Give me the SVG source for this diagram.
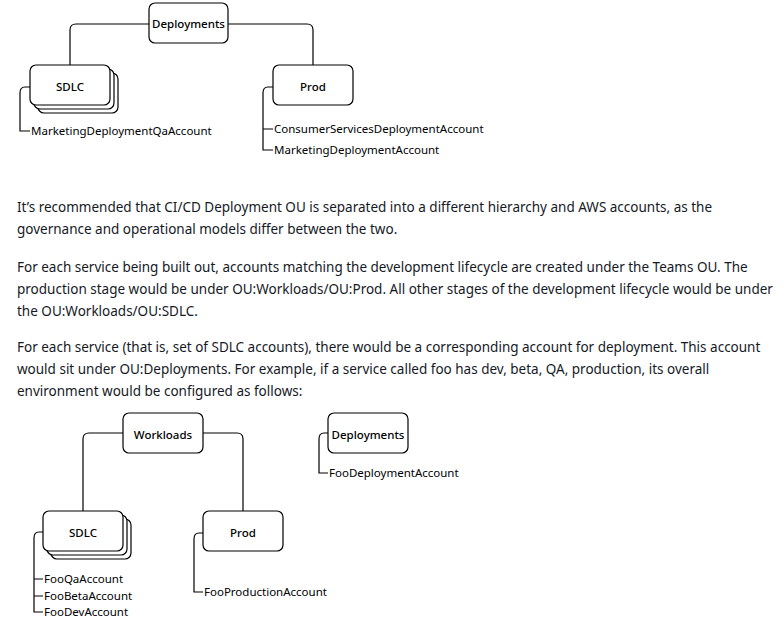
<svg xmlns="http://www.w3.org/2000/svg" width="784" height="627" viewBox="0 0 784 627">
<style>
.b{fill:#fff;stroke:#000;stroke-width:1.2}
.l{fill:none;stroke:#000;stroke-width:1.2}
.n{font-family:"Noto Sans",sans-serif;font-size:11.5px;fill:#000}
.c{text-anchor:middle;font-weight:500}
.p{font-family:"Noto Sans",sans-serif;font-size:13.5px;fill:#16191f}
</style>
<rect width="784" height="627" fill="#fff"/>
<g id="connectors">
<path class="l" d="M149 24H76Q70 24 70 30V65"/>
<path class="l" d="M228 24H307Q313 24 313 30V65"/>
<path class="l" d="M30 87H25Q20 87 20 93V131H30"/>
<path class="l" d="M273 87H268Q263 87 263 93V150H273M263 129H273"/>
<path class="l" d="M123 433H89Q83 433 83 439V511"/>
<path class="l" d="M203 433H237Q243 433 243 439V511"/>
<path class="l" d="M43 532H39Q34 532 34 538V612H43M34 579H43M34 596H43"/>
<path class="l" d="M203 533H199Q194 533 194 539V592H203"/>
<path class="l" d="M328 433H324Q319 433 319 439V473H328"/>
</g>
<g id="deployments-top"><rect class="b" x="149" y="3" width="79" height="40" rx="6"/><text class="n c" x="188.5" y="28">Deployments</text></g>
<g id="sdlc-top"><rect class="b" x="38" y="73" width="80" height="40" rx="6"/><rect class="b" x="34" y="69" width="80" height="40" rx="6"/><rect class="b" x="30" y="65" width="80" height="40" rx="6"/><text class="n c" x="70" y="91">SDLC</text><text class="n" x="31" y="135">MarketingDeploymentQaAccount</text></g>
<g id="prod-top"><rect class="b" x="273" y="65" width="80" height="40" rx="6"/><text class="n c" x="313" y="91">Prod</text><text class="n" x="274" y="133">ConsumerServicesDeploymentAccount</text><text class="n" x="274" y="154">MarketingDeploymentAccount</text></g>
<g id="text">
<text class="p" x="17" y="212">It’s recommended that CI/CD Deployment OU is separated into a different hierarchy and AWS accounts, as the</text>
<text class="p" x="17" y="234">governance and operational models differ between the two.</text>
<text class="p" x="17" y="272">For each service being built out, accounts matching the development lifecycle are created under the Teams OU. The</text>
<text class="p" x="17" y="294">production stage would be under OU:Workloads/OU:Prod. All other stages of the development lifecycle would be under</text>
<text class="p" x="17" y="316">the OU:Workloads/OU:SDLC.</text>
<text class="p" x="17" y="352">For each service (that is, set of SDLC accounts), there would be a corresponding account for deployment. This account</text>
<text class="p" x="17" y="374">would sit under OU:Deployments. For example, if a service called foo has dev, beta, QA, production, its overall</text>
<text class="p" x="17" y="396">environment would be configured as follows:</text>
</g>
<g id="workloads"><rect class="b" x="123" y="413" width="80" height="40" rx="6"/><text class="n c" x="163" y="439">Workloads</text></g>
<g id="deployments-bottom"><rect class="b" x="328" y="413" width="80" height="40" rx="6"/><text class="n c" x="368" y="439">Deployments</text><text class="n" x="329" y="477">FooDeploymentAccount</text></g>
<g id="sdlc-bottom"><rect class="b" x="51" y="519" width="80" height="40" rx="6"/><rect class="b" x="47" y="515" width="80" height="40" rx="6"/><rect class="b" x="43" y="511" width="80" height="40" rx="6"/><text class="n c" x="83" y="537">SDLC</text><text class="n" x="44" y="583">FooQaAccount</text><text class="n" x="44" y="600">FooBetaAccount</text><text class="n" x="44" y="616">FooDevAccount</text></g>
<g id="prod-bottom"><rect class="b" x="203" y="511" width="80" height="40" rx="6"/><text class="n c" x="243" y="537">Prod</text><text class="n" x="204" y="596">FooProductionAccount</text></g>
</svg>
